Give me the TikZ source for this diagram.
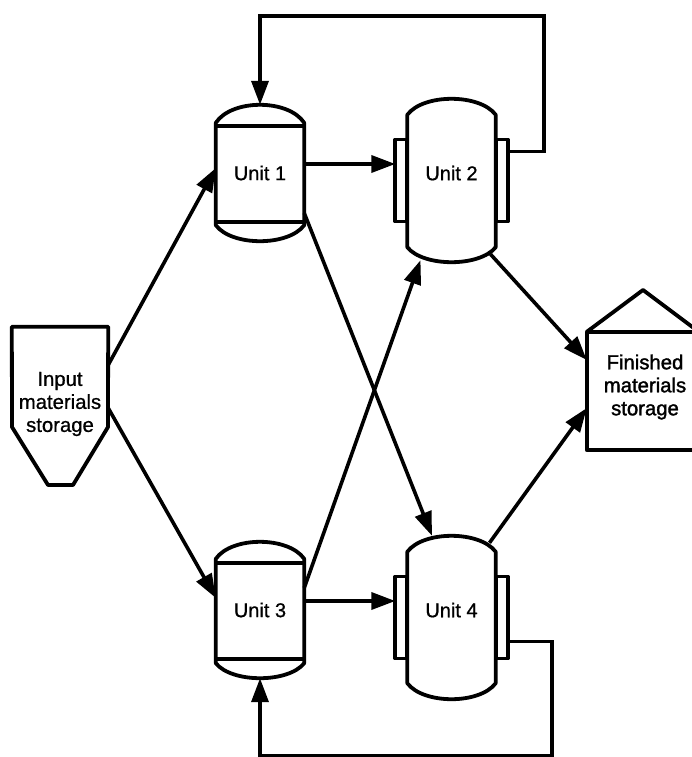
\documentclass[tikz,border=0pt]{standalone}
\usepackage{fontspec}
\setmainfont[FakeBold=0.8]{Liberation Sans}
\newfontfamily\heavyfont[FakeBold=1.6]{Liberation Sans}
\usetikzlibrary{arrows.meta, positioning}
\tikzset{%
	unit/.style={minimum width=88pt, inner sep=0pt, font=\fontsize{20}{23}\selectfont},
	small/.style={unit, minimum height=136pt},
	tall/.style={unit, minimum height=163pt, text depth=15pt},
	jacket/.style={outer sep=0pt, minimum width=12pt, minimum height=82pt, inner sep=0pt},
	wall/.style={line width=3.8pt, line join=round},
	store/.style={inner sep=0pt, align=center, font=\fontsize{20.3}{23}\selectfont},
	flow/.style={line width=3.6pt, -{Triangle[length=24pt,width=17pt]}}
}
\newcommand{\vesselwall}[3]{%
	\draw[wall] ([yshift=-#2pt]#1.north west)
		.. controls ([xshift=16pt,yshift=#2pt/3]#1.north west) and ([xshift=-16pt,yshift=#2pt/3]#1.north east) .. ([yshift=-#2pt]#1.north east)
		-- ([yshift=#3pt]#1.south east)
		.. controls ([xshift=-16pt,yshift=-#3pt/3]#1.south east) and ([xshift=16pt,yshift=-#3pt/3]#1.south west) .. ([yshift=#3pt]#1.south west)
		-- cycle;
}
\begin{document}
\begin{tikzpicture}[x=1pt, y=-1pt]
	\clip (0,0) rectangle (692,757);
	\node[small] (unit1) at (260,173) {Unit 1};
	\node[tall] (unit2) at (451.5,180.5) {Unit 2};
	\node[small] (unit3) at (260,610) {Unit 3};
	\node[tall] (unit4) at (451.5,617.5) {Unit 4};
	\node[jacket] (unit2-l) [left=0pt of unit2.west] {};
	\node[jacket] (unit2-r) [right=0pt of unit2.east] {};
	\node[jacket] (unit4-l) [left=0pt of unit4.west] {};
	\node[jacket] (unit4-r) [right=0pt of unit4.east] {};
	\node[store, minimum width=96pt, minimum height=154pt] (input) at (60,404) {Input\\materials\\storage};
	\node[store, minimum width=116pt, minimum height=126pt] (finished) at (645,387) {\heavyfont Finished\\\heavyfont materials\\\heavyfont storage};

	\vesselwall{unit1}{18}{16}
	\vesselwall{unit2}{16}{15}
	\vesselwall{unit3}{17}{15}
	\vesselwall{unit4}{16}{16}
	\draw[wall] (unit2-l.north west) rectangle (unit2-l.south east);
	\draw[wall] (unit2-r.north west) rectangle (unit2-r.south east);
	\draw[wall] (unit4-l.north west) rectangle (unit4-l.south east);
	\draw[wall] (unit4-r.north west) rectangle (unit4-r.south east);
	\draw[wall] ([yshift=-21pt]unit1.north west) -- ([yshift=-21pt]unit1.north east);
	\draw[wall] ([yshift=19pt]unit1.south west) -- ([yshift=19pt]unit1.south east);
	\draw[wall] ([yshift=-21pt]unit3.north west) -- ([yshift=-21pt]unit3.north east);
	\draw[wall] ([yshift=19pt]unit3.south west) -- ([yshift=19pt]unit3.south east);
	\draw[wall] (input.north west) -- (input.north east) -- (108,427) -- (73,485) -- (48,485) -- (12,427) -- cycle;
	\draw[wall] ([yshift=-8pt]finished.north west) rectangle (finished.south east);
	\draw[wall] ([yshift=-8pt]finished.north west) -- (643,290) -- (699,332);

	\draw[flow] ([yshift=39pt]input.east) -- ([yshift=5pt]unit1.west);
	\draw[flow] ([yshift=-4pt]input.east) -- ([yshift=12pt]unit3.west);
	\draw[flow] ([yshift=9pt]unit1.east) -- ([yshift=16.5pt]unit2-l.west);
	\draw[flow] ([yshift=9pt]unit3.east) -- ([yshift=16.5pt]unit4-l.west);
	\draw[flow] ([yshift=-40pt]unit1.east) -- ([xshift=-19.5pt]unit4.north);
	\draw[flow] ([yshift=22pt]unit3.east) -- ([xshift=-31pt,yshift=2pt]unit2.south);
	\draw[flow] ([xshift=39pt,yshift=8pt]unit2.south) -- ([yshift=27pt]finished.west);
	\draw[flow] ([xshift=38pt,yshift=-7pt]unit4.north) -- ([yshift=-21pt]finished.west);
	\draw[flow] ([yshift=29pt]unit2-r.east) -- ++(36,0) |- (260,16) -- (unit1.north);
	\draw[flow] ([yshift=-24pt]unit4-r.east) -- ++(44,0) |- (260,756) -- (unit3.south);
\end{tikzpicture}
\end{document}
